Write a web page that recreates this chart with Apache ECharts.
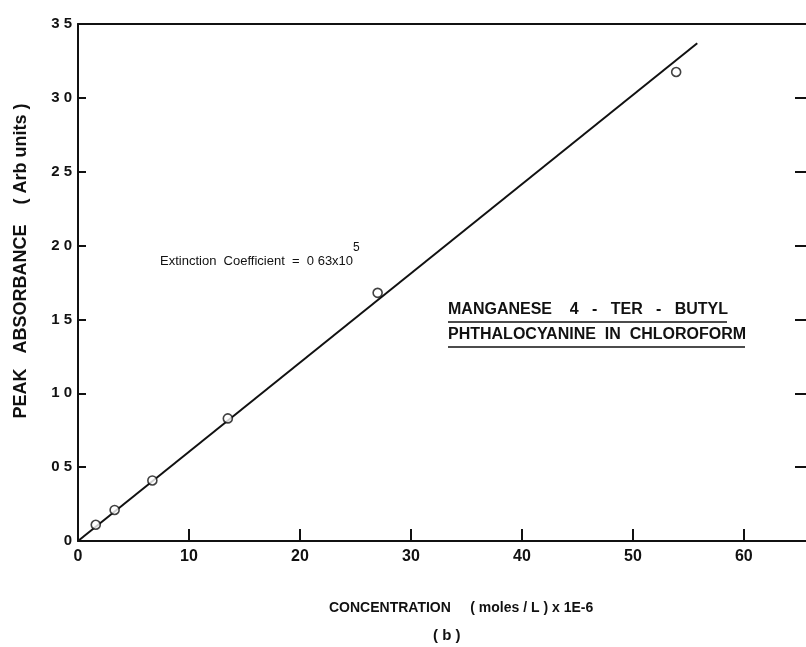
<!DOCTYPE html>
<html>
<head>
<meta charset="utf-8">
<script src="https://cdn.jsdelivr.net/npm/echarts@6/dist/echarts.min.js"></script>
<style>
  html, body { margin: 0; padding: 0; background: #fff; }
  #chart { width: 806px; height: 647px; }
</style>
</head>
<body>
<div id="chart"></div>
<script>
// Measured concentrations (x 1E-6 moles/L) and peak absorbance
const concentration = [1.6, 3.3, 6.7, 13.5, 27.0, 53.9];
const absorbance = [0.11, 0.21, 0.41, 0.83, 1.68, 3.175];

// Fitted straight line through the origin
const fitX = [0, 55.8];
const fitY = [0, 3.37];

// Axis tick values and labels
const xTickValues = [0, 10, 20, 30, 40, 50, 60];
const xTickLabels = ['0', '10', '20', '30', '40', '50', '60'];
const yTickValues = [0, 0.5, 1, 1.5, 2, 2.5, 3, 3.5];
const yTickLabels = ['0', '0 5', '1 0', '1 5', '2 0', '2 5', '3 0', '3 5'];

const FONT = '"Liberation Sans", "DejaVu Sans", sans-serif';
const INK = '#111';

const chart = echarts.init(document.getElementById('chart'), null, { renderer: 'canvas' });

const points = concentration.map((c, i) => [c, absorbance[i]]);
const fitLine = fitX.map((x, i) => [x, fitY[i]]);

chart.setOption({
  animation: false,
  backgroundColor: '#fff',
  grid: { left: 78, right: -2, top: 24, bottom: 106 },
  xAxis: [
    {
      type: 'value', min: 0, max: 65.6, interval: 10, position: 'bottom',
      axisLine: { onZero: false, lineStyle: { color: INK, width: 2 } },
      axisTick: { inside: true, length: 12, customValues: xTickValues, lineStyle: { color: INK, width: 2 } },
      splitLine: { show: false },
      axisLabel: {
        color: INK, fontFamily: FONT, fontSize: 16, fontWeight: 'bold', margin: 8,
        customValues: xTickValues,
        formatter: v => xTickLabels[xTickValues.indexOf(v)] || ''
      }
    },
    {
      type: 'value', min: 0, max: 65.6, interval: 10, position: 'top',
      axisLine: { onZero: false, lineStyle: { color: INK, width: 2 } },
      axisTick: { show: false }, axisLabel: { show: false }, splitLine: { show: false }
    }
  ],
  yAxis: [
    {
      type: 'value', min: 0, max: 3.5, interval: 0.5, position: 'left',
      axisLine: { onZero: false, lineStyle: { color: INK, width: 2 } },
      axisTick: { inside: true, length: 8, lineStyle: { color: INK, width: 2 } },
      splitLine: { show: false },
      axisLabel: {
        color: INK, fontFamily: FONT, fontSize: 15, fontWeight: 'bold', margin: 6,
        formatter: v => yTickLabels[yTickValues.indexOf(v)] || ''
      }
    },
    {
      type: 'value', min: 0, max: 3.5, interval: 0.5, position: 'right',
      axisLine: { show: false, onZero: false },
      axisTick: { inside: true, length: 11, lineStyle: { color: INK, width: 2 } },
      axisLabel: { show: false }, splitLine: { show: false }
    }
  ],
  series: [
    {
      type: 'line', data: fitLine, showSymbol: false,
      lineStyle: { color: INK, width: 2 }, z: 2
    },
    {
      type: 'scatter', data: points, symbol: 'circle', symbolSize: 9,
      itemStyle: { color: '#fff', borderColor: INK, borderWidth: 1.6 }, z: 3
    }
  ],
  graphic: [
    {
      type: 'text', x: 21, y: 261, rotation: Math.PI / 2,
      style: {
        text: 'PEAK   ABSORBANCE    ( Arb units )', fill: INK,
        font: 'bold 18px ' + FONT, align: 'center', verticalAlign: 'middle'
      }
    },
    {
      type: 'text', left: 160, top: 255,
      style: { text: 'Extinction  Coefficient  =  0 63x10', fill: INK, font: '13px ' + FONT }
    },
    {
      type: 'text', left: 353, top: 242,
      style: { text: '5', fill: INK, font: '12px ' + FONT }
    },
    {
      type: 'text', left: 448, top: 302,
      style: { text: 'MANGANESE    4   -   TER   -   BUTYL', fill: INK, font: 'bold 16px ' + FONT }
    },
    {
      type: 'line', shape: { x1: 448, y1: 322, x2: 727, y2: 322 },
      style: { stroke: INK, lineWidth: 1.6 }
    },
    {
      type: 'text', left: 448, top: 327,
      style: { text: 'PHTHALOCYANINE  IN  CHLOROFORM', fill: INK, font: 'bold 16px ' + FONT }
    },
    {
      type: 'line', shape: { x1: 448, y1: 347, x2: 745, y2: 347 },
      style: { stroke: INK, lineWidth: 1.6 }
    },
    {
      type: 'text', left: 329, top: 601,
      style: { text: 'CONCENTRATION     ( moles / L ) x 1E-6', fill: INK, font: 'bold 14px ' + FONT }
    },
    {
      type: 'text', left: 433, top: 628,
      style: { text: '( b )', fill: INK, font: 'bold 15px ' + FONT }
    }
  ]
});
</script>
</body>
</html>
